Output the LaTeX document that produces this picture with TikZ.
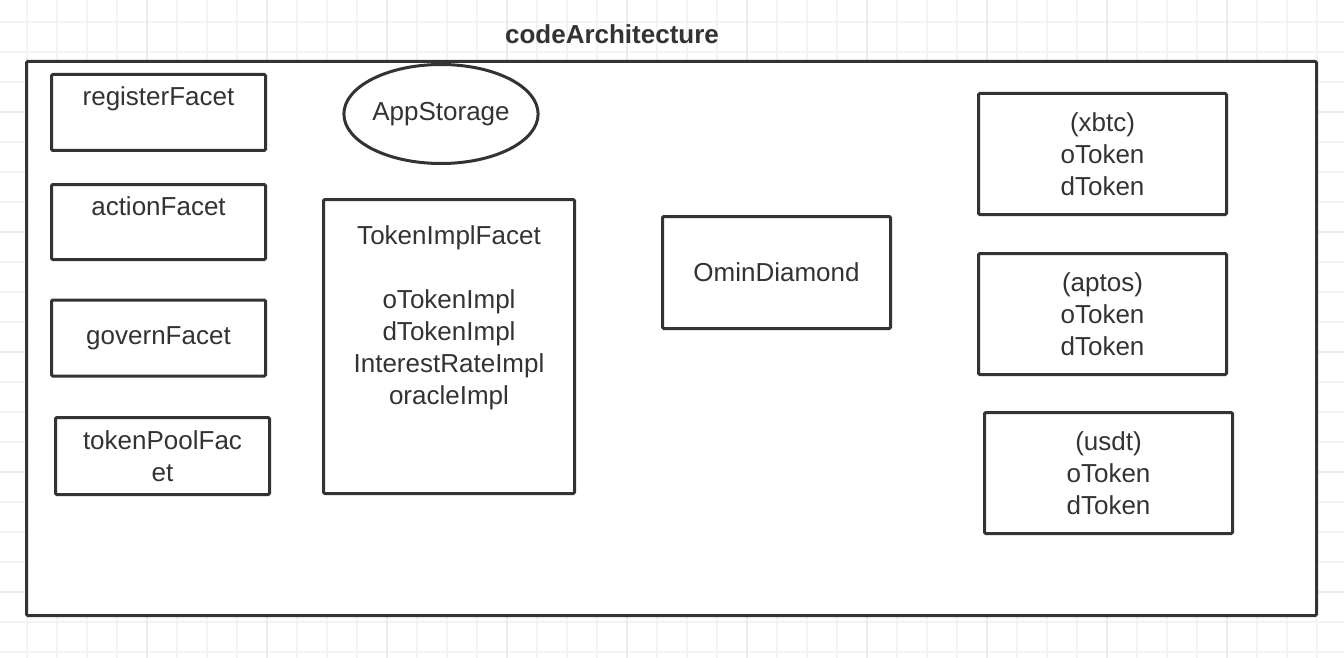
\documentclass[tikz,border=0pt]{standalone}
\usepackage{fontspec}
\setmainfont{Liberation Sans}
\usetikzlibrary{shapes.geometric}
\definecolor{inkgray}{HTML}{333333}
\definecolor{gridlight}{HTML}{F3F3F3}
\definecolor{griddark}{HTML}{EBEBEB}
\tikzset{
  facet/.style={draw=inkgray, line width=1.5pt, fill=white, rectangle, rounded corners=0.6pt,
    outer sep=0pt, inner sep=0pt, text=inkgray, align=center, font=\fontsize{13}{16}\selectfont},
  toplabel/.style={anchor=north, inner sep=0pt, yshift=-6pt, text=inkgray, align=center,
    font=\fontsize{13}{16}\selectfont},
}
\begin{document}
\begin{tikzpicture}[x=0.5pt,y=-0.5pt]
\useasboundingbox (0,0) rectangle (1344,658);
\fill[white] (0,0) rectangle (1344,658);
\foreach \x in {27,57,...,1344} \draw[gridlight, line width=1pt] (\x,0) -- (\x,658);
\foreach \y in {22,52,...,658} \draw[gridlight, line width=1pt] (0,\y) -- (1344,\y);
\foreach \x in {147,267,...,1344} \draw[griddark, line width=1pt] (\x,0) -- (\x,658);
\foreach \y in {112,232,...,658} \draw[griddark, line width=1pt] (0,\y) -- (1344,\y);

\node[text=inkgray, font=\bfseries\fontsize{13}{16}\selectfont] (title) at (612,34) {codeArchitecture};
\node[facet, minimum width=645pt, minimum height=277pt] (frame) at (671.5,338.5) {};

\node[facet, minimum width=107pt, minimum height=38pt,
  label={[toplabel]north:registerFacet}] (register) at (158.5,112.5) {};
\node[facet, minimum width=107pt, minimum height=37.5pt,
  label={[toplabel]north:actionFacet}] (action) at (158.5,222) {};
\node[facet, minimum width=107pt, minimum height=38pt] (govern) at (158.5,338) {governFacet};
\node[facet, minimum width=107pt, minimum height=38.5pt] (tokenPool) at (162.5,456) {tokenPoolFac\\et};

\node[facet, ellipse, rounded corners=0pt, minimum width=93pt, minimum height=49.5pt] (appStorage) at (441,114) {AppStorage};
\node[facet, minimum width=125.5pt, minimum height=147pt,
  label={[toplabel, yshift=-6.75pt]north:{TokenImplFacet\\[16pt]oTokenImpl\\dTokenImpl\\InterestRateImpl\\oracleImpl}}] (tokenImpl) at (449,346.5) {};

\node[facet, minimum width=114pt, minimum height=56pt] (ominDiamond) at (776.5,272.5) {OminDiamond};

\node[facet, minimum width=124pt, minimum height=60.5pt] (xbtc) at (1102.5,154) {(xbtc)\\oToken\\dToken};
\node[facet, minimum width=124pt, minimum height=60.5pt] (aptos) at (1102.5,314) {(aptos)\\oToken\\dToken};
\node[facet, minimum width=124pt, minimum height=60.5pt] (usdt) at (1108.5,473) {(usdt)\\oToken\\dToken};
\end{tikzpicture}
\end{document}
